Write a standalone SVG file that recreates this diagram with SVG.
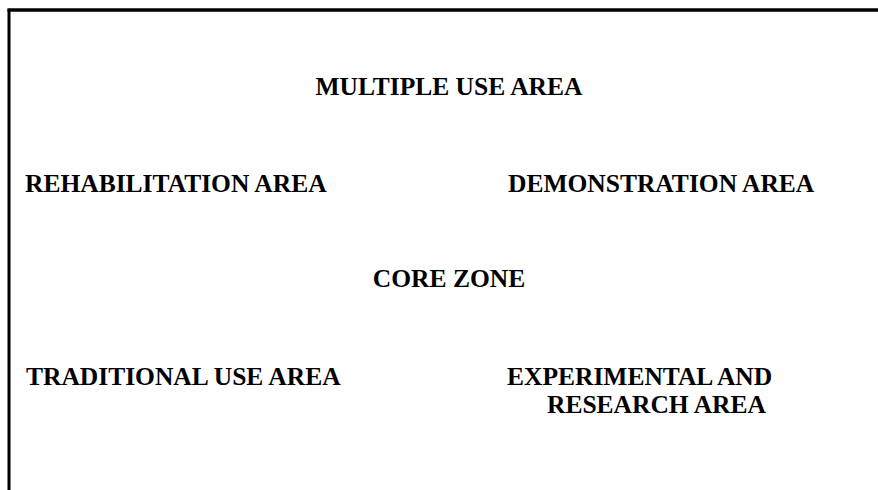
<svg xmlns="http://www.w3.org/2000/svg" width="878" height="490" viewBox="0 0 878 490">
<style>
.t{font-family:"Liberation Serif","Times New Roman",serif;font-weight:bold;font-size:25.5px;fill:#000}
.f{stroke:#000;fill:none}
</style>
<rect width="878" height="490" fill="#fff"/>
<g id="frame">
<line class="f" x1="7.5" y1="10" x2="878" y2="10" stroke-width="3.5"/>
<line class="f" x1="9" y1="9" x2="9" y2="490" stroke-width="3"/>
</g>
<g id="multiple-use-area"><text class="t" x="449" y="95" text-anchor="middle">MULTIPLE USE AREA</text></g>
<g id="rehabilitation-area"><text class="t" x="25" y="192">REHABILITATION AREA</text></g>
<g id="demonstration-area"><text class="t" x="508" y="192">DEMONSTRATION AREA</text></g>
<g id="core-zone"><text class="t" x="449" y="287" text-anchor="middle">CORE ZONE</text></g>
<g id="traditional-use-area"><text class="t" x="26" y="385">TRADITIONAL USE AREA</text></g>
<g id="experimental-research-area"><text class="t" x="507" y="385">EXPERIMENTAL AND</text><text class="t" x="547" y="413">RESEARCH AREA</text></g>
</svg>
